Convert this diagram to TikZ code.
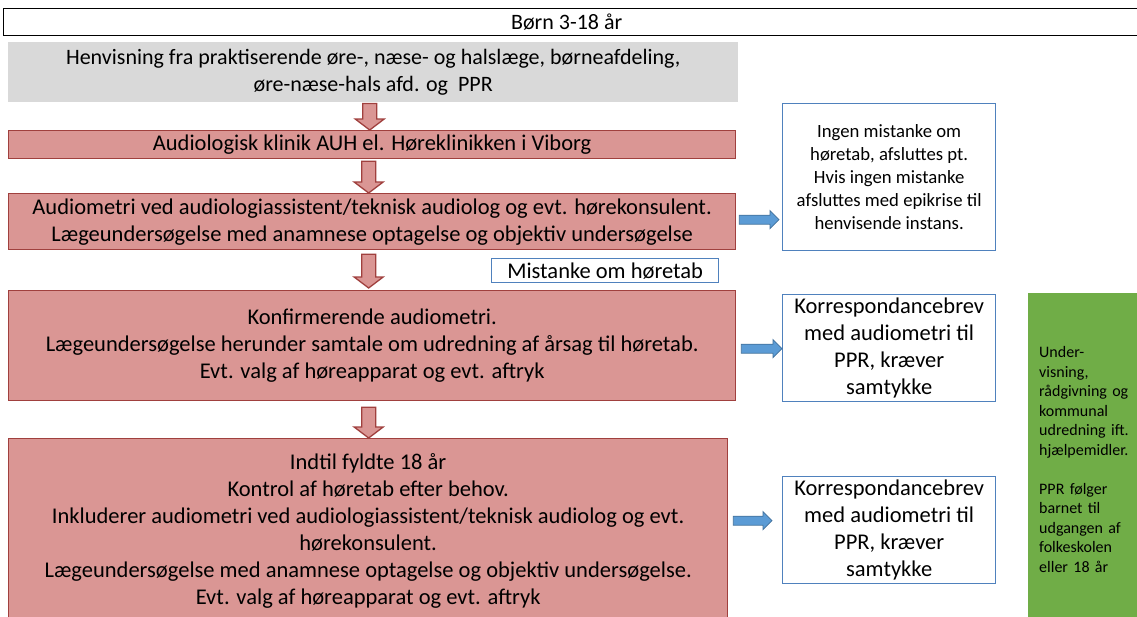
\documentclass[tikz,border=0pt]{standalone}
\usepackage{fontspec}
\setmainfont{Carlito}
\usetikzlibrary{calc}
\definecolor{redfill}{HTML}{DA9694}
\definecolor{redline}{HTML}{A0403E}
\definecolor{blueline}{HTML}{4F81BD}
\definecolor{bluefill}{HTML}{5B9BD5}
\definecolor{bluedark}{HTML}{41719C}
\definecolor{greenfill}{HTML}{70AD47}
\definecolor{grayfill}{HTML}{D9D9D9}
\tikzset{
  base/.style={anchor=north west, inner sep=0pt, align=center, font=\fontsize{22.5}{27}\selectfont},
  headbox/.style={base, draw=black, line width=1.3pt, font=\fontsize{22}{27}\selectfont},
  graybox/.style={base, fill=grayfill, font=\fontsize{22}{27}\selectfont},
  redbox/.style={base, fill=redfill, draw=redline, line width=1.3pt},
  bluebox/.style={base, fill=white, draw=blueline, line width=1.3pt},
  greenbox/.style={base, fill=greenfill, align=left, font=\fontsize{16}{19.5}\selectfont},
  redarr/.style={fill=redfill, draw=redline, line width=1.3pt, line join=miter},
  bluearr/.style={fill=bluefill, draw=bluedark, line width=0.8pt, line join=miter}
}
\newcommand\rarrowV[2]{\draw[redarr] let \p1=(#1), \p2=(#2) in
  (\x1-7pt,\y1) -- (\x1+7pt,\y1) -- (\x1+7pt,\y2+11pt) -- (\x1+14.5pt,\y2+11pt)
  -- (\x1,\y2) -- (\x1-14.5pt,\y2+11pt) -- (\x1-7pt,\y2+11pt) -- cycle;}
\newcommand\barrowH[2]{\draw[bluearr] let \p1=(#1), \p2=(#2) in
  (\x1,\y1+4.5pt) -- (\x2-9pt,\y1+4.5pt) -- (\x2-9pt,\y1+9pt) -- (\x2,\y1)
  -- (\x2-9pt,\y1-9pt) -- (\x2-9pt,\y1-4.5pt) -- (\x1,\y1-4.5pt) -- cycle;}
\begin{document}
\begin{tikzpicture}[x=1pt,y=-1pt]
\useasboundingbox (0,0) rectangle (1137,616);
\clip (0,0) rectangle (1137,616);
\fill[white] (0,0) rectangle (1137,616);

\node[headbox, minimum width=1140pt, minimum height=27pt] (head) at (3,8) {\hspace*{-14pt}Børn 3-18 år};
\node[graybox, minimum width=730pt, minimum height=60pt] (ref) at (8,42)
  {Henvisning fra praktiserende øre-, næse- og halslæge, børneafdeling,\\ øre-næse-hals afd. og\ \ PPR};
\node[redbox, minimum width=727pt, minimum height=28pt] (klinik) at (8,130)
  {Audiologisk klinik AUH el. Høreklinikken i Viborg};
\node[redbox, minimum width=727pt, minimum height=56pt] (audio) at (8,193)
  {Audiometri ved audiologiassistent/teknisk audiolog og evt. hørekonsulent.\\ Lægeundersøgelse med anamnese optagelse og objektiv undersøgelse};
\node[bluebox, minimum width=227pt, minimum height=24pt] (mist) at (491,258)
  {Mistanke om høretab};
\node[redbox, minimum width=727pt, minimum height=110pt] (konf) at (8,290)
  {Konfirmerende audiometri.\\ Lægeundersøgelse herunder samtale om udredning af årsag til høretab.\\ Evt. valg af høreapparat og evt. aftryk};
\node[redbox, minimum width=719pt, minimum height=184pt] (kontrol) at (8,438)
  {Indtil fyldte 18 år\\ Kontrol af høretab efter behov.\\ Inkluderer audiometri ved audiologiassistent/teknisk audiolog og evt.\\ hørekonsulent.\\ Lægeundersøgelse med anamnese optagelse og objektiv undersøgelse.\\ Evt. valg af høreapparat og evt. aftryk};

\node[bluebox, minimum width=213pt, minimum height=147pt, font=\fontsize{18.7}{23}\selectfont] (ingen) at (782,103)
  {Ingen mistanke om\\ høretab, afsluttes pt.\\ Hvis ingen mistanke\\ afsluttes med epikrise til\\ henvisende instans.};
\node[bluebox, minimum width=213pt, minimum height=107pt] (korr1) at (782,294)
  {Korrespondancebrev\\ med audiometri til\\ PPR, kræver\\ samtykke};
\node[bluebox, minimum width=213pt, minimum height=107pt] (korr2) at (782,476)
  {Korrespondancebrev\\ med audiometri til\\ PPR, kræver\\ samtykke};
\node[greenbox, minimum width=115pt, minimum height=333pt, inner xsep=11pt, text width=100pt] (ppr) at (1028,293)
  {Under-\\ visning,\\ rådgivning og\\ kommunal\\ udredning ift.\\ hjælpemidler.\\[19.5pt]PPR følger\\ barnet til\\ udgangen af\\ folkeskolen\\ eller 18 år};

% red block arrows
\rarrowV{[xshift=-3.5pt,yshift=-1pt]ref.south}{[xshift=-3.5pt]klinik.north}
\rarrowV{[xshift=-3.5pt,yshift=-2pt]klinik.south}{[xshift=-3.5pt]audio.north}
\rarrowV{[xshift=-3.5pt,yshift=-4pt]audio.south}{[xshift=-3.5pt,yshift=2pt]konf.north}
\rarrowV{[xshift=-3.5pt,yshift=-6pt]konf.south}{[xshift=0pt]kontrol.north}

% blue block arrows
\coordinate (aA1) at ([xshift=3pt,yshift=2pt]audio.east);
\coordinate (aA2) at ([xshift=-3pt]aA1 -| ingen.west);
\barrowH{aA1}{aA2}
\coordinate (aB1) at ([xshift=5pt,yshift=-3pt]konf.east);
\coordinate (aB2) at (aB1 -| korr1.west);
\barrowH{aB1}{aB2}
\coordinate (aC1) at ([xshift=5pt,yshift=10pt]kontrol.east);
\coordinate (aC2) at ([xshift=-10pt]aC1 -| korr2.west);
\barrowH{aC1}{aC2}
\end{tikzpicture}
\end{document}
